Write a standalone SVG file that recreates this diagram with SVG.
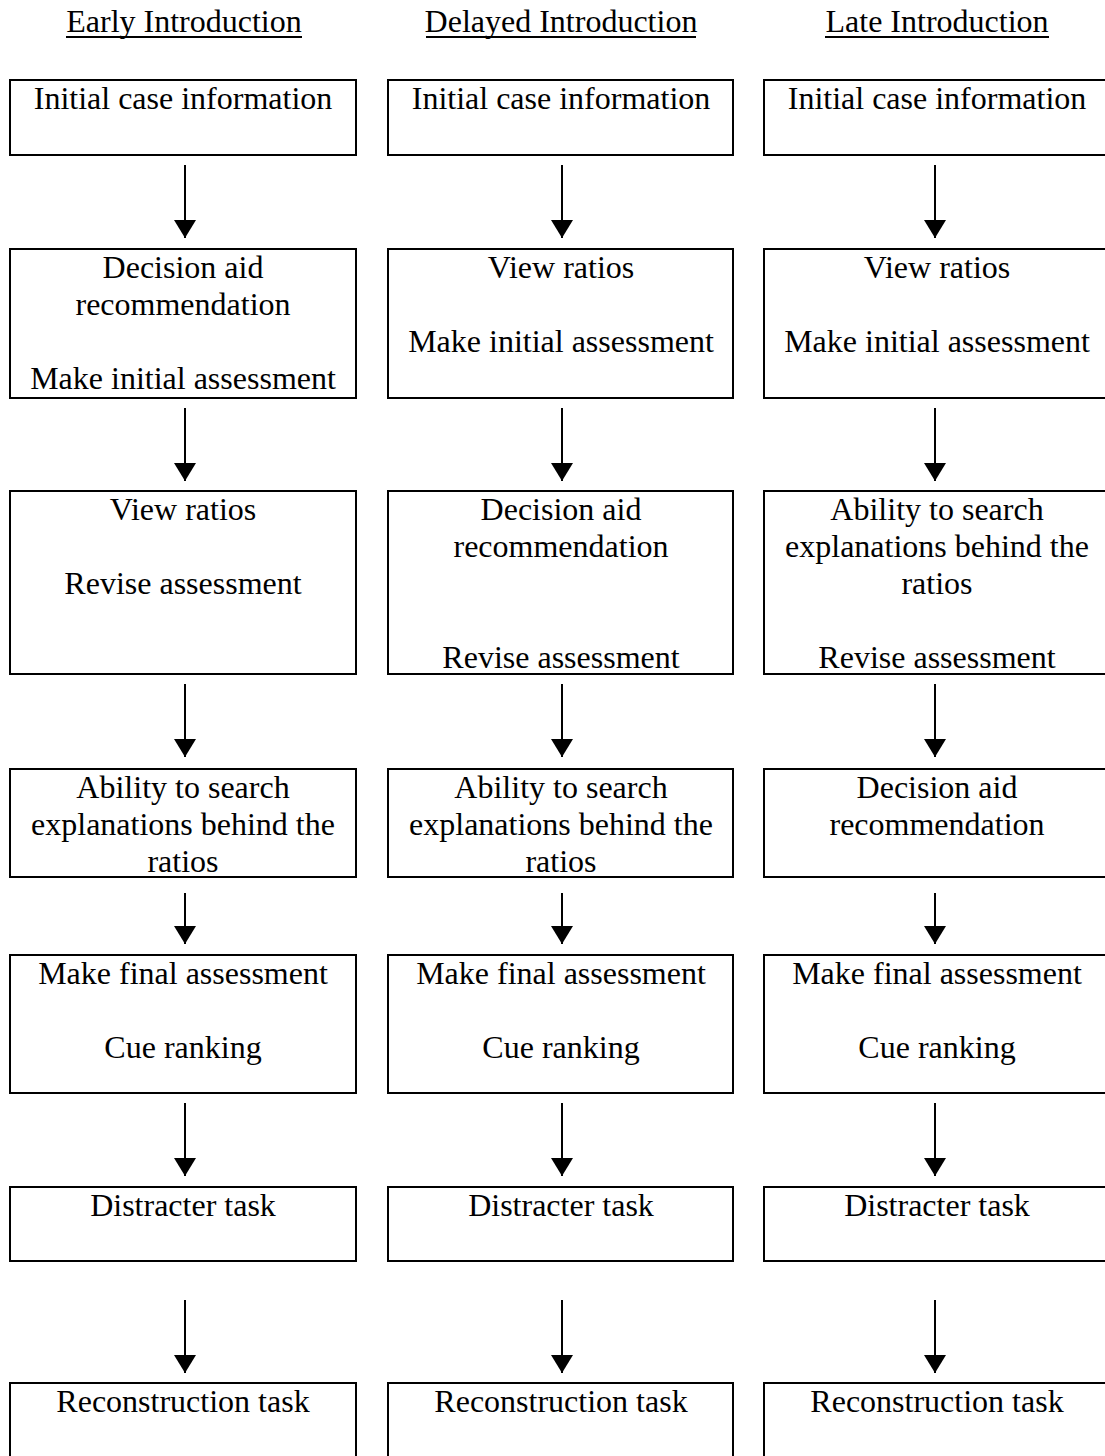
<svg xmlns="http://www.w3.org/2000/svg" width="1105" height="1456" viewBox="0 0 1105 1456">
  <defs>
    <marker id="head" viewBox="0 0 18 22" refX="18" refY="11" markerWidth="18" markerHeight="22" markerUnits="userSpaceOnUse" orient="auto">
      <path d="M0,0 L18,11 L0,22 Z" fill="#000"/>
    </marker>
  </defs>
  <style>
    text { font-family: "Liberation Serif", "Times New Roman", serif; font-size: 32px; fill: #000; text-anchor: middle; }
    .box { fill: #fff; stroke: #000; stroke-width: 2; }
    .flow { stroke: #000; stroke-width: 2; fill: none; marker-end: url(#head); }
    .rule { stroke: #000; stroke-width: 2; }
  </style>
  <rect width="1105" height="1456" fill="#fff"/>

  <!-- column headings -->
  <g id="headings">
    <text x="184" y="32">Early Introduction</text>
    <line class="rule" x1="66" y1="37" x2="302" y2="37"/>
    <text x="561" y="32">Delayed Introduction</text>
    <line class="rule" x1="426" y1="37" x2="696" y2="37"/>
    <text x="937" y="32">Late Introduction</text>
    <line class="rule" x1="825" y1="37" x2="1049" y2="37"/>
  </g>

  <!-- connectors -->
  <g id="connectors">
    <line class="flow" x1="185" y1="165" x2="185" y2="238"/>
    <line class="flow" x1="562" y1="165" x2="562" y2="238"/>
    <line class="flow" x1="935" y1="165" x2="935" y2="238"/>

    <line class="flow" x1="185" y1="408" x2="185" y2="481"/>
    <line class="flow" x1="562" y1="408" x2="562" y2="481"/>
    <line class="flow" x1="935" y1="408" x2="935" y2="481"/>

    <line class="flow" x1="185" y1="684" x2="185" y2="757"/>
    <line class="flow" x1="562" y1="684" x2="562" y2="757"/>
    <line class="flow" x1="935" y1="684" x2="935" y2="757"/>

    <line class="flow" x1="185" y1="893" x2="185" y2="944"/>
    <line class="flow" x1="562" y1="893" x2="562" y2="944"/>
    <line class="flow" x1="935" y1="893" x2="935" y2="944"/>

    <line class="flow" x1="185" y1="1103" x2="185" y2="1176"/>
    <line class="flow" x1="562" y1="1103" x2="562" y2="1176"/>
    <line class="flow" x1="935" y1="1103" x2="935" y2="1176"/>

    <line class="flow" x1="185" y1="1300" x2="185" y2="1373"/>
    <line class="flow" x1="562" y1="1300" x2="562" y2="1373"/>
    <line class="flow" x1="935" y1="1300" x2="935" y2="1373"/>
  </g>

  <!-- Early Introduction column -->
  <g id="early-1"><rect class="box" x="10" y="80" width="346" height="75"/><text x="183" y="109">Initial case information</text></g>
  <g id="early-2"><rect class="box" x="10" y="249" width="346" height="149"/>
    <text x="183" y="278">Decision aid</text><text x="183" y="315">recommendation</text><text x="183" y="389">Make initial assessment</text></g>
  <g id="early-3"><rect class="box" x="10" y="491" width="346" height="183"/>
    <text x="183" y="520">View ratios</text><text x="183" y="594">Revise assessment</text></g>
  <g id="early-4"><rect class="box" x="10" y="769" width="346" height="108"/>
    <text x="183" y="798">Ability to search</text><text x="183" y="835">explanations behind the</text><text x="183" y="872">ratios</text></g>
  <g id="early-5"><rect class="box" x="10" y="955" width="346" height="138"/>
    <text x="183" y="984">Make final assessment</text><text x="183" y="1058">Cue ranking</text></g>
  <g id="early-6"><rect class="box" x="10" y="1187" width="346" height="74"/><text x="183" y="1216">Distracter task</text></g>
  <g id="early-7"><rect class="box" x="10" y="1383" width="346" height="100"/><text x="183" y="1412">Reconstruction task</text></g>

  <!-- Delayed Introduction column -->
  <g id="delayed-1"><rect class="box" x="388" y="80" width="345" height="75"/><text x="561" y="109">Initial case information</text></g>
  <g id="delayed-2"><rect class="box" x="388" y="249" width="345" height="149"/>
    <text x="561" y="278">View ratios</text><text x="561" y="352">Make initial assessment</text></g>
  <g id="delayed-3"><rect class="box" x="388" y="491" width="345" height="183"/>
    <text x="561" y="520">Decision aid</text><text x="561" y="557">recommendation</text><text x="561" y="668">Revise assessment</text></g>
  <g id="delayed-4"><rect class="box" x="388" y="769" width="345" height="108"/>
    <text x="561" y="798">Ability to search</text><text x="561" y="835">explanations behind the</text><text x="561" y="872">ratios</text></g>
  <g id="delayed-5"><rect class="box" x="388" y="955" width="345" height="138"/>
    <text x="561" y="984">Make final assessment</text><text x="561" y="1058">Cue ranking</text></g>
  <g id="delayed-6"><rect class="box" x="388" y="1187" width="345" height="74"/><text x="561" y="1216">Distracter task</text></g>
  <g id="delayed-7"><rect class="box" x="388" y="1383" width="345" height="100"/><text x="561" y="1412">Reconstruction task</text></g>

  <!-- Late Introduction column -->
  <g id="late-1"><rect class="box" x="764" y="80" width="346" height="75"/><text x="937" y="109">Initial case information</text></g>
  <g id="late-2"><rect class="box" x="764" y="249" width="346" height="149"/>
    <text x="937" y="278">View ratios</text><text x="937" y="352">Make initial assessment</text></g>
  <g id="late-3"><rect class="box" x="764" y="491" width="346" height="183"/>
    <text x="937" y="520">Ability to search</text><text x="937" y="557">explanations behind the</text><text x="937" y="594">ratios</text><text x="937" y="668">Revise assessment</text></g>
  <g id="late-4"><rect class="box" x="764" y="769" width="346" height="108"/>
    <text x="937" y="798">Decision aid</text><text x="937" y="835">recommendation</text></g>
  <g id="late-5"><rect class="box" x="764" y="955" width="346" height="138"/>
    <text x="937" y="984">Make final assessment</text><text x="937" y="1058">Cue ranking</text></g>
  <g id="late-6"><rect class="box" x="764" y="1187" width="346" height="74"/><text x="937" y="1216">Distracter task</text></g>
  <g id="late-7"><rect class="box" x="764" y="1383" width="346" height="100"/><text x="937" y="1412">Reconstruction task</text></g>
</svg>
